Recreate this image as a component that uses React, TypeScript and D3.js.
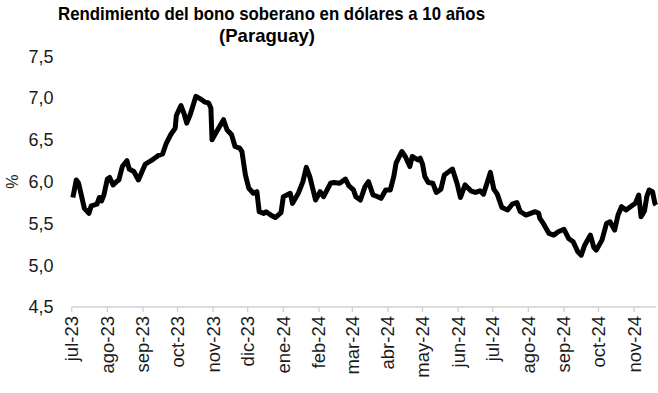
import React from "react";
import * as d3 from "d3";

const title1 = "Rendimiento del bono soberano en dólares a 10 años";
const title2 = "(Paraguay)";
const yLabel = "%";

const dates: string[] = [
  "2023-07-02","2023-07-05","2023-07-07","2023-07-11","2023-07-12","2023-07-16","2023-07-18","2023-07-23","2023-07-25","2023-07-27",
  "2023-07-29","2023-08-01","2023-08-03","2023-08-06","2023-08-09","2023-08-11","2023-08-14","2023-08-18","2023-08-20","2023-08-24",
  "2023-08-28","2023-09-03","2023-09-08","2023-09-14","2023-09-18","2023-09-21","2023-09-25","2023-09-29","2023-09-30","2023-10-04",
  "2023-10-07","2023-10-09","2023-10-12","2023-10-17","2023-10-22","2023-10-25","2023-10-28","2023-10-30","2023-10-31","2023-11-04",
  "2023-11-10","2023-11-13","2023-11-17","2023-11-20","2023-11-24","2023-11-26","2023-11-29","2023-12-02","2023-12-06","2023-12-09",
  "2023-12-11","2023-12-15","2023-12-17","2023-12-21","2023-12-25","2023-12-30","2024-01-01","2024-01-04","2024-01-07","2024-01-09",
  "2024-01-14","2024-01-18","2024-01-21","2024-01-24","2024-01-29","2024-02-02","2024-02-05","2024-02-11","2024-02-14","2024-02-19",
  "2024-02-24","2024-02-27","2024-03-02","2024-03-04","2024-03-08","2024-03-12","2024-03-15","2024-03-19","2024-03-23","2024-03-26",
  "2024-03-30","2024-04-03","2024-04-06","2024-04-08","2024-04-13","2024-04-16","2024-04-20","2024-04-22","2024-04-27","2024-04-29",
  "2024-05-01","2024-05-03","2024-05-06","2024-05-10","2024-05-13","2024-05-17","2024-05-20","2024-05-27","2024-05-31","2024-06-03",
  "2024-06-07","2024-06-12","2024-06-16","2024-06-20","2024-06-23","2024-06-29","2024-07-02","2024-07-05","2024-07-09","2024-07-14",
  "2024-07-18","2024-07-22","2024-07-25","2024-07-30","2024-08-03","2024-08-07","2024-08-10","2024-08-11","2024-08-14","2024-08-19",
  "2024-08-23","2024-08-27","2024-09-01","2024-09-05","2024-09-09","2024-09-13","2024-09-16","2024-09-19","2024-09-24","2024-09-27",
  "2024-09-29","2024-10-04","2024-10-08","2024-10-11","2024-10-15","2024-10-18","2024-10-21","2024-10-25","2024-10-30","2024-11-02",
  "2024-11-05","2024-11-07","2024-11-10","2024-11-12","2024-11-14","2024-11-17","2024-11-19","2024-11-20"
];

const values: number[] = [
  5.81,6.02,5.98,5.74,5.68,5.62,5.71,5.73,5.81,5.77,
  5.84,6.03,6.05,5.96,6.00,6.02,6.18,6.25,6.15,6.12,
  6.02,6.21,6.25,6.31,6.33,6.45,6.56,6.64,6.79,6.91,
  6.80,6.70,6.80,7.02,6.98,6.95,6.94,6.88,6.50,6.60,
  6.74,6.62,6.56,6.42,6.40,6.36,6.08,5.92,5.86,5.88,
  5.64,5.62,5.64,5.60,5.57,5.63,5.82,5.84,5.86,5.74,
  5.86,6.00,6.17,6.06,5.78,5.88,5.82,5.98,5.99,5.98,
  6.03,5.95,5.90,5.82,5.78,5.94,6.00,5.84,5.82,5.80,
  5.90,5.90,6.06,6.22,6.36,6.30,6.18,6.30,6.26,6.28,
  6.21,6.06,5.99,5.98,5.87,5.91,6.08,6.15,5.98,5.81,
  5.96,5.89,5.87,5.89,5.85,6.11,5.91,5.85,5.69,5.66,
  5.73,5.75,5.64,5.60,5.62,5.64,5.62,5.56,5.50,5.38,
  5.36,5.40,5.43,5.32,5.28,5.16,5.12,5.24,5.36,5.21,
  5.18,5.30,5.50,5.52,5.42,5.60,5.70,5.66,5.71,5.74,
  5.84,5.58,5.65,5.82,5.90,5.88,5.74,5.72
];

const monthTicks: string[] = [
  "2023-07-01","2023-08-01","2023-09-01","2023-10-01","2023-11-01","2023-12-01",
  "2024-01-01","2024-02-01","2024-03-01","2024-04-01","2024-05-01","2024-06-01",
  "2024-07-01","2024-08-01","2024-09-01","2024-10-01","2024-11-01"
];
const monthLabels: string[] = [
  "jul-23","ago-23","sep-23","oct-23","nov-23","dic-23",
  "ene-24","feb-24","mar-24","abr-24","may-24","jun-24",
  "jul-24","ago-24","sep-24","oct-24","nov-24"
];
const yTicks: number[] = [4.5, 5, 5.5, 6, 6.5, 7, 7.5];
const xDomain: string[] = ["2023-07-01", "2024-11-20"];

export default function App() {
  const W = 658, H = 393;
  const font = "'Liberation Sans', Arial, sans-serif";
  const parse = d3.utcParse("%Y-%m-%d");
  const x = d3.scaleUtc().domain(xDomain.map((s) => parse(s) as Date)).range([71.7, 656]);
  const y = d3.scaleLinear().domain([4.5, 7.5]).range([307, 56.2]);
  const pts = dates.map((d, i) => ({ d: parse(d) as Date, v: values[i] }));
  const line = d3.line<{ d: Date; v: number }>().x((p) => x(p.d)).y((p) => y(p.v));
  const fmt = (v: number) => d3.format(".1f")(v).replace(".", ",");
  const [x0, x1] = x.range();

  return (
    <svg width={W} height={H} style={{ position: "absolute", left: 0, top: 0, background: "#fff" }} fontFamily={font}>
      <text x={271.5} y={19.5} textAnchor="middle" fontSize={19} fontWeight="bold" fill="#000"
        textLength={427} lengthAdjust="spacingAndGlyphs">{title1}</text>
      <text x={267} y={41.8} textAnchor="middle" fontSize={19} fontWeight="bold" fill="#000"
        textLength={96} lengthAdjust="spacingAndGlyphs">{title2}</text>

      {yTicks.map((t) => (
        <text key={t} x={53.5} y={y(t)} dy="0.36em" textAnchor="end" fontSize={18} fill="#1a1a1a">{fmt(t)}</text>
      ))}
      <text transform={`translate(12,${y(6)}) rotate(-90)`} textAnchor="middle" dy="0.35em" fontSize={16} fill="#1a1a1a">{yLabel}</text>

      <line x1={x0} x2={x1} y1={307} y2={307} stroke="#d0d0d0" strokeWidth={1.3} />
      {monthTicks.map((m, i) => {
        const xx = x(parse(m) as Date);
        return (
          <g key={m}>
            <line x1={xx} x2={xx} y1={307} y2={312} stroke="#d0d0d0" strokeWidth={1.3} />
            <text transform={`translate(${xx},${316}) rotate(-90)`} textAnchor="end" dy="0.35em" fontSize={18.5} fill="#1a1a1a">{monthLabels[i]}</text>
          </g>
        );
      })}

      <path d={line(pts) || ""} fill="none" stroke="#000" strokeWidth={5} strokeLinejoin="round" strokeLinecap="butt" />
    </svg>
  );
}
